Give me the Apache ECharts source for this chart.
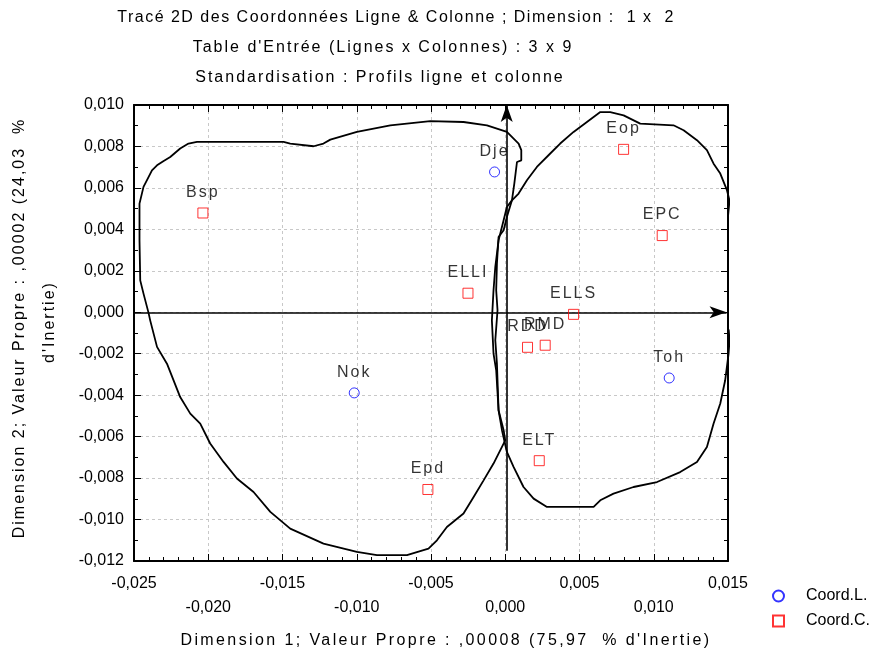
<!DOCTYPE html>
<html><head><meta charset="utf-8">
<script src="https://cdn.jsdelivr.net/npm/echarts@6/dist/echarts.min.js"></script>
<style>html,body{margin:0;padding:0;background:#fff}#c{width:885px;height:660px}</style>
</head><body><div id="c"></div>
<script>
// ---- text ----
const titleLines = [
  "Tracé 2D des Coordonnées Ligne & Colonne ; Dimension :  1 x  2",
  "Table d'Entrée (Lignes x Colonnes) : 3 x 9",
  "Standardisation : Profils ligne et colonne"
];
const xAxisName = "Dimension 1; Valeur Propre : ,00008 (75,97  % d'Inertie)";
const yAxisNameLines = ["Dimension 2; Valeur Propre : ,00002 (24,03  %", "d'Inertie)"];
const legendNames = ["Coord.L.", "Coord.C."];

// ---- axes ----
const xMin = -0.025, xMax = 0.015, xStep = 0.005;
const yMin = -0.012, yMax = 0.010, yStep = 0.002;

// ---- row points (Coord.L.) ----
const rowNames = ["Dje", "Nok", "Toh"];
const rowX = [-0.00072, -0.01017, 0.01104];
const rowY = [0.00677, -0.00389, -0.00317];

// ---- column points (Coord.C.) ----
const colNames = ["Bsp", "Eop", "EPC", "ELLI", "ELLS", "RDD", "RMD", "ELT", "Epd"];
const colX = [-0.02036, 0.00797, 0.01057, -0.00251, 0.00460, 0.00150, 0.00269, 0.00229, -0.00521];
const colY = [0.00479, 0.00786, 0.00370, 0.00092, -0.00010, -0.00169, -0.00159, -0.00716, -0.00855];

// ---- hand-drawn envelopes ----
const leftHullX = [-0.02402,-0.02436,-0.02458,-0.02463,-0.02463,-0.02436,-0.02379,-0.02345,-0.02303,-0.02256,-0.02189,-0.02133,-0.02076,-0.01493,-0.01448,-0.01291,-0.01224,-0.01178,-0.00999,-0.00774,-0.00505,-0.00281,-0.00123,0.00011,0.00090,0.00108,0.00108,0.00079,0.00061,0.00045,0.00011,-0.00011,-0.00045,-0.00056,-0.00061,-0.00052,-0.00067,-0.00056,-0.00045,-0.00011,0.00000,-0.00045,-0.00079,-0.00146,-0.00213,-0.00281,-0.00393,-0.00460,-0.00517,-0.00662,-0.00864,-0.00999,-0.01224,-0.01448,-0.01582,-0.01695,-0.01807,-0.01897,-0.01987,-0.02054,-0.02121,-0.02189,-0.02278,-0.02345,-0.02391,-0.02402];
const leftHullY = [-0.00003,0.00090,0.00154,0.00347,0.00524,0.00605,0.00685,0.00709,0.00729,0.00749,0.00790,0.00814,0.00822,0.00822,0.00814,0.00801,0.00814,0.00833,0.00870,0.00902,0.00922,0.00918,0.00902,0.00870,0.00814,0.00782,0.00733,0.00725,0.00621,0.00540,0.00460,0.00396,0.00363,0.00235,0.00106,0.00010,-0.00135,-0.00248,-0.00473,-0.00569,-0.00618,-0.00682,-0.00730,-0.00811,-0.00891,-0.00971,-0.01036,-0.01100,-0.01140,-0.01172,-0.01172,-0.01156,-0.01116,-0.01044,-0.00963,-0.00867,-0.00802,-0.00722,-0.00633,-0.00537,-0.00489,-0.00409,-0.00248,-0.00167,-0.00039,-0.00003];
const rightHullX = [0.00011,0.00045,0.00090,0.00146,0.00213,0.00303,0.00370,0.00460,0.00550,0.00640,0.00707,0.00797,0.00909,0.01133,0.01201,0.01291,0.01358,0.01403,0.01448,0.01493,0.01510,0.01527,0.01549,0.01549,0.01527,0.01515,0.01504,0.01481,0.01448,0.01403,0.01358,0.01291,0.01178,0.01022,0.00864,0.00729,0.00640,0.00595,0.00281,0.00191,0.00123,0.00056,0.00011,-0.00022,-0.00045,-0.00061,-0.00079,-0.00090,-0.00079,-0.00067,-0.00045,-0.00011,0.00011];
const rightHullY = [0.00508,0.00540,0.00573,0.00637,0.00701,0.00766,0.00814,0.00870,0.00918,0.00966,0.00966,0.00950,0.00910,0.00902,0.00878,0.00830,0.00782,0.00717,0.00669,0.00589,0.00540,0.00412,0.00404,-0.00055,-0.00071,-0.00087,-0.00199,-0.00328,-0.00440,-0.00537,-0.00650,-0.00722,-0.00771,-0.00819,-0.00843,-0.00875,-0.00907,-0.00939,-0.00939,-0.00899,-0.00843,-0.00746,-0.00674,-0.00569,-0.00473,-0.00280,-0.00199,-0.00039,0.00106,0.00219,0.00347,0.00444,0.00508];

// ---- axis arrows (start / end in data units) ----
const hArrow = [[-0.025, 0], [0.0149, 0]];
const vArrow = [[0.0001, -0.0115], [0.0001, 0.0100]];

// letter spacing used by the original's text rendering (applied at draw time)
const spacing = new Map();
spacing.set(titleLines[0], '1.5px');
spacing.set(titleLines[1], '2px');
spacing.set(titleLines[2], '2px');
spacing.set(xAxisName, '2.4px');
yAxisNameLines.forEach(t => spacing.set(t, '2px'));
rowNames.concat(colNames).forEach(t => spacing.set(t, '2px'));
(function () {
  const P = CanvasRenderingContext2D.prototype;
  const orig = P.fillText;
  P.fillText = function (t, x, y, w) {
    const ls = spacing.get(t);
    if (ls && ('letterSpacing' in this)) {
      this.save();
      this.letterSpacing = ls;
      const r = (w === undefined) ? orig.call(this, t, x, y) : orig.call(this, t, x, y, w);
      this.restore();
      return r;
    }
    return (w === undefined) ? orig.call(this, t, x, y) : orig.call(this, t, x, y, w);
  };
})();

const FONT = '"Liberation Sans", Arial, sans-serif';
const zip = (a, b) => a.map((v, i) => [v, b[i]]);
const fmt = v => { let s = v.toFixed(3).replace('.', ','); if (s === '-0,000') s = '0,000'; return s; };

const chart = echarts.init(document.getElementById('c'), null, {renderer: 'canvas'});
const gridBox = {left: 134, right: 157, top: 105, bottom: 99};

const frameAxisX = (pos, showLabel) => ({
  type: 'value', min: xMin, max: xMax, interval: xStep, position: pos,
  axisLine: {show: true, onZero: false, lineStyle: {color: '#000', width: 2}},
  axisTick: {show: true, inside: true, length: 7, lineStyle: {color: '#000', width: 1}},
  minorTick: {show: true, splitNumber: 5, length: 4, lineStyle: {color: '#000', width: 1}},
  splitLine: {show: showLabel, lineStyle: {color: '#c8c8c8', type: [3, 3], width: 1}},
  axisLabel: showLabel ? {
    show: true, color: '#000', fontSize: 16, fontFamily: FONT, margin: 11, lineHeight: 24,
    formatter: (v, i) => (i % 2 === 1 ? '\n' : '') + fmt(v)
  } : {show: false}
});
const frameAxisY = (pos, showLabel) => ({
  type: 'value', min: yMin, max: yMax, interval: yStep, position: pos,
  axisLine: {show: true, onZero: false, lineStyle: {color: '#000', width: 2}},
  axisTick: {show: true, inside: true, length: 7, lineStyle: {color: '#000', width: 1}},
  minorTick: {show: true, splitNumber: 2, length: 4, lineStyle: {color: '#000', width: 1}},
  splitLine: {show: showLabel, lineStyle: {color: '#c8c8c8', type: [3, 3], width: 1}},
  axisLabel: showLabel ? {show: true, color: '#000', fontSize: 16, fontFamily: FONT, margin: 10, formatter: v => fmt(v)} : {show: false}
});

const textEl = (text, x, y, extra) => Object.assign({
  type: 'text', x: x, y: y, silent: true,
  style: {text: text, fill: '#000', fontSize: 16, fontFamily: FONT, align: 'center', verticalAlign: 'middle'}
}, extra || {});

const pointLabel = {show: true, position: 'top', distance: 7, color: '#000', fontSize: 16, fontFamily: FONT,
  formatter: p => p.data[2]};

chart.setOption({
  animation: false,
  backgroundColor: '#fff',
  grid: gridBox,
  xAxis: [frameAxisX('bottom', true), frameAxisX('top', false)],
  yAxis: [frameAxisY('left', true), frameAxisY('right', false)],
  legend: {
    data: legendNames, orient: 'vertical', left: 767, top: 583, itemGap: 9,
    itemWidth: 11, itemHeight: 11, selectedMode: false,
    textStyle: {color: '#000', fontSize: 16, fontFamily: FONT, padding: [0, 0, 0, 17]}
  },
  graphic: [
    textEl(titleLines[0], 396, 18),
    textEl(titleLines[1], 383, 48),
    textEl(titleLines[2], 380, 78),
    textEl(xAxisName, 446, 641),
    textEl(yAxisNameLines[0], 20, 328, {rotation: Math.PI / 2}),
    textEl(yAxisNameLines[1], 50, 322, {rotation: Math.PI / 2})
  ],
  series: [
    {
      type: 'line', name: 'leftHull', data: zip(leftHullX, leftHullY), showSymbol: false, symbol: 'none',
      clip: false, silent: true, lineStyle: {color: '#000', width: 1.8}, z: 3,
      markLine: {
        silent: true, symbol: ['none', 'arrow'], symbolSize: [9, 17], label: {show: false},
        lineStyle: {color: '#000', width: 1.6, type: 'solid'}, animation: false,
        data: [
          [{coord: hArrow[0]}, {coord: hArrow[1]}],
          [{coord: vArrow[0]}, {coord: vArrow[1]}]
        ]
      }
    },
    {
      type: 'line', name: 'rightHull', data: zip(rightHullX, rightHullY), showSymbol: false, symbol: 'none',
      clip: false, silent: true, lineStyle: {color: '#000', width: 1.8}, z: 3
    },
    {
      type: 'scatter', name: legendNames[0], data: rowX.map((x, i) => [x, rowY[i], rowNames[i]]),
      symbol: 'circle', symbolSize: 10, z: 5,
      itemStyle: {color: 'rgba(0,0,0,0)', borderColor: '#0000ff', borderWidth: 1},
      label: pointLabel
    },
    {
      type: 'scatter', name: legendNames[1], data: colX.map((x, i) => [x, colY[i], colNames[i]]),
      symbol: 'rect', symbolSize: 10, z: 5,
      itemStyle: {color: 'rgba(0,0,0,0)', borderColor: '#ff0000', borderWidth: 1},
      label: pointLabel
    }
  ]
});
</script>
</body></html>
